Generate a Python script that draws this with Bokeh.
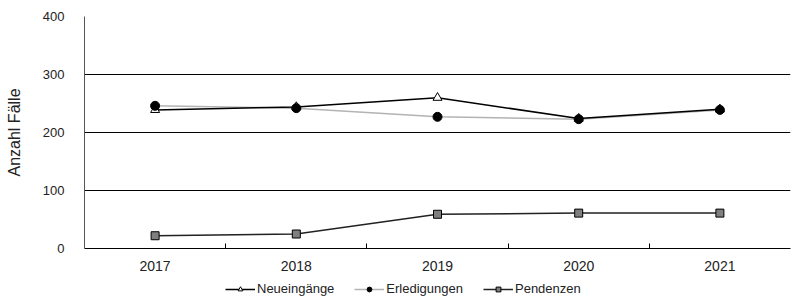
from bokeh.plotting import figure
from bokeh.layouts import column
from bokeh.models import FixedTicker, Legend, LegendItem, Range1d
from bokeh.embed import file_html
from bokeh.resources import INLINE

years = ["2017", "2018", "2019", "2020", "2021"]
neueingaenge = [239, 244, 260, 224, 240]
erledigungen = [246, 242, 227, 223, 239]
pendenzen = [22, 25, 59, 61, 61]
y_ticks = [0, 100, 200, 300, 400]
series_names = ["Neueingänge", "Erledigungen", "Pendenzen"]

x = [int(v) for v in years]

FONT = "Liberation Sans"

p = figure(output_backend="svg", toolbar_location=None,
           frame_width=706, frame_height=232,
           min_border_left=84, min_border_top=16, min_border_right=1, min_border_bottom=30,
           x_range=Range1d(x[0] - 0.5, x[-1] + 0.5), y_range=Range1d(0, 400))
p.outline_line_color = None
p.background_fill_color = "white"

# y axis
p.yaxis.ticker = FixedTicker(ticks=y_ticks)
p.yaxis.axis_line_color = "#555555"
p.yaxis.major_tick_line_color = None
p.yaxis.minor_tick_line_color = None
p.yaxis.major_label_standoff = 14
p.yaxis.major_label_text_font = FONT
p.yaxis.major_label_text_font_size = "13px"
p.yaxis.major_label_text_color = "#222222"
p.yaxis.axis_label = "Anzahl Fälle"
p.yaxis.axis_label_text_font = FONT
p.yaxis.axis_label_text_font_size = "16px"
p.yaxis.axis_label_text_font_style = "normal"
p.yaxis.axis_label_text_color = "#222222"
p.yaxis.axis_label_standoff = 17

# x axis
p.xaxis.ticker = FixedTicker(ticks=x, minor_ticks=[v + 0.5 for v in x[:-1]])
p.xaxis.major_label_overrides = {v: s for v, s in zip(x, years)}
p.xaxis.axis_line_color = "black"
p.xaxis.major_tick_line_color = None
p.xaxis.minor_tick_line_color = "black"
p.xaxis.minor_tick_in = 5
p.xaxis.minor_tick_out = 0
p.xaxis.major_tick_in = 0
p.xaxis.major_tick_out = 0
p.xaxis.major_label_standoff = 12
p.xaxis.major_label_text_font = FONT
p.xaxis.major_label_text_font_size = "14px"
p.xaxis.major_label_text_color = "#222222"

p.xgrid.grid_line_color = None
p.ygrid.ticker = FixedTicker(ticks=y_ticks)
p.ygrid.grid_line_color = "black"
p.ygrid.grid_line_width = 1

STYLES = {
    "neu_line": dict(line_color="black", line_width=1.5),
    "erl_line": dict(line_color="#b3b3b3", line_width=1.5),
    "pen_line": dict(line_color="#222222", line_width=1.5),
    "neu_mark": dict(marker="triangle", size=9, fill_color="white", line_color="black", line_width=1),
    "erl_mark": dict(marker="circle", size=9, fill_color="black", line_color="black"),
    "pen_mark": dict(marker="square", size=8, fill_color="#7f7f7f", line_color="black", line_width=1),
}


def draw(fig):
    l_erl = fig.line(x, erledigungen, **STYLES["erl_line"])
    l_neu = fig.line(x, neueingaenge, **STYLES["neu_line"])
    l_pen = fig.line(x, pendenzen, **STYLES["pen_line"])
    m_neu = fig.scatter(x, neueingaenge, **STYLES["neu_mark"])
    m_erl = fig.scatter(x, erledigungen, **STYLES["erl_mark"])
    m_pen = fig.scatter(x, pendenzen, **STYLES["pen_mark"])
    return [[l_neu, m_neu], [l_erl, m_erl], [l_pen, m_pen]]


draw(p)

# separate strip for the legend below the chart (same glyph styles, data out of view)
lg = figure(output_backend="svg", toolbar_location=None,
            width=791, height=21, min_border=0,
            x_axis_type=None, y_axis_type=None,
            x_range=Range1d(0, 1), y_range=Range1d(0, 1))
lg.outline_line_color = None
lg.grid.visible = False
rends = draw(lg)

legend = Legend(items=[LegendItem(label=n, renderers=r) for n, r in zip(series_names, rends)],
                orientation="horizontal", location=(141, 3))
legend.label_text_font = FONT
legend.label_text_font_size = "13px"
legend.label_text_color = "#222222"
legend.label_height = 14
legend.glyph_width = 30
legend.glyph_height = 12
legend.label_standoff = 2
legend.spacing = 20
legend.padding = 0
legend.margin = 0
legend.border_line_color = None
legend.background_fill_alpha = 0
lg.add_layout(legend, "center")

layout = column(p, lg, spacing=0)
open("out.html", "w").write(file_html(layout, INLINE))
